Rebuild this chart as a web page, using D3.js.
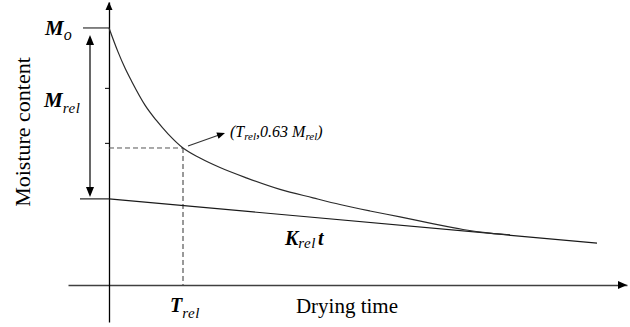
<!DOCTYPE html>
<html>
<head>
<meta charset="utf-8">
<script src="https://cdn.jsdelivr.net/npm/d3@7"></script>
<style>
  html, body { margin: 0; padding: 0; background: #fff; }
  svg { display: block; }
</style>
</head>
<body>
<svg id="chart" width="630" height="327"></svg>
<script>
// Drying curve: moisture content (M_o = 100) against drying time
const timeExtent = [-8.2, 103.6];
const moistureExtent = [-14.4, 110.1];

const curveTime     = [0, 1.8, 3.2, 4.6, 7.2, 9.4, 11.8, 14.8, 18.2, 22.2, 27.6, 34.2, 40.8, 46.2, 52.2, 58.2, 64.2, 70.8, 76.2, 80.2];
const curveMoisture = [100, 90.7, 84.4, 79.0, 70.0, 64.2, 58.8, 53.3, 49.4, 45.7, 41.6, 37.2, 33.9, 31.3, 28.8, 26.5, 24.1, 21.6, 20.2, 19.5];

// Relaxation line K_rel t
const relaxTime     = [0, 97.6];
const relaxMoisture = [33.5, 16.3];

const initialMoisture = 100;     // M_o
const relaxStart = 33.5;         // start of the K_rel t line
const relTime = 14.8;            // T_rel
const relMoisture = 53.3;        // level reached at T_rel
const yTickValues = [76.7, 55.3];

const serif = "Liberation Serif";

const svg = d3.select("#chart");
const x = d3.scaleLinear().domain(timeExtent).range([68, 627]);
const y = d3.scaleLinear().domain(moistureExtent).range([322, 2]);

const axisColor = "#404040";

// axes without tick labels
svg.append("g")
  .attr("transform", `translate(0,${y(0)})`)
  .call(d3.axisBottom(x).tickValues([]).tickSizeOuter(0))
  .call(g => g.select(".domain").attr("stroke", axisColor).attr("stroke-width", 1.4));

svg.append("g")
  .attr("transform", `translate(${x(0)},0)`)
  .call(d3.axisLeft(y).tickValues(yTickValues).tickSize(4).tickSizeOuter(0).tickFormat(""))
  .call(g => g.select(".domain").attr("stroke", "#000").attr("stroke-width", 1.3))
  .call(g => g.selectAll(".tick line").attr("stroke", "#000").attr("stroke-width", 1));

// filled arrow heads
function arrowHead(tipX, tipY, angle, len, half) {
  const p = d3.path();
  p.moveTo(0, 0);
  p.lineTo(-len, -half);
  p.lineTo(-len, half);
  p.closePath();
  svg.append("path")
    .attr("d", p.toString())
    .attr("transform", `translate(${tipX},${tipY}) rotate(${angle})`)
    .attr("fill", "#000");
}
arrowHead(x(timeExtent[1]), y(0), 0, 9, 4);
arrowHead(x(0), y(moistureExtent[1]), -90, 8, 3.5);

// reference ticks for M_o and the start of the relaxation line
svg.append("line")
  .attr("x1", x(0) - 26).attr("x2", x(0))
  .attr("y1", y(initialMoisture)).attr("y2", y(initialMoisture))
  .attr("stroke", "#333").attr("stroke-width", 1.2);
svg.append("line")
  .attr("x1", x(0) - 29).attr("x2", x(0))
  .attr("y1", y(relaxStart)).attr("y2", y(relaxStart))
  .attr("stroke", "#222").attr("stroke-width", 1.2);

// dashed guides to (T_rel, 0.63 M_rel)
svg.append("line")
  .attr("x1", x(0)).attr("x2", x(relTime))
  .attr("y1", y(relMoisture)).attr("y2", y(relMoisture))
  .attr("stroke", "#555").attr("stroke-width", 1).attr("stroke-dasharray", "5,3");
svg.append("line")
  .attr("x1", x(relTime)).attr("x2", x(relTime))
  .attr("y1", y(relMoisture)).attr("y2", y(0))
  .attr("stroke", "#333").attr("stroke-width", 1).attr("stroke-dasharray", "5,3");

// relaxation line
const relaxLine = d3.line().x((d, i) => x(relaxTime[i])).y(d => y(d));
svg.append("path")
  .attr("d", relaxLine(relaxMoisture))
  .attr("fill", "none").attr("stroke", "#1a1a1a").attr("stroke-width", 1.2);

// drying curve
const dryLine = d3.line()
  .x((d, i) => x(curveTime[i]))
  .y(d => y(d))
  .curve(d3.curveMonotoneX);
svg.append("path")
  .attr("d", dryLine(curveMoisture))
  .attr("fill", "none").attr("stroke", "#2a2a2a").attr("stroke-width", 1.2);

// double arrow spanning M_rel
const arrX = x(0) - 19;
svg.append("line")
  .attr("x1", arrX).attr("x2", arrX)
  .attr("y1", y(initialMoisture) + 12).attr("y2", y(relaxStart) - 10)
  .attr("stroke", "#000").attr("stroke-width", 1.2);
arrowHead(arrX, y(initialMoisture) + 7, -90, 10, 4);
arrowHead(arrX, y(relaxStart) - 2, 90, 10, 4);

// annotation arrow
const ax0 = x(relTime) + 5, ay0 = y(relMoisture) - 2;
const ax1 = x(relTime) + 42, ay1 = y(relMoisture) - 15;
svg.append("line")
  .attr("x1", ax0).attr("y1", ay0).attr("x2", ax1 - 6).attr("y2", ay1 + 2)
  .attr("stroke", "#333").attr("stroke-width", 1.2);
arrowHead(ax1, ay1, Math.atan2(ay1 - ay0, ax1 - ax0) * 180 / Math.PI, 8, 3.2);

// labels
function symbol(px, py, main, sub, size, subSize, subDy, after) {
  const t = svg.append("text").attr("x", px).attr("y", py)
    .style("font-family", serif)
    .attr("font-size", size).attr("font-weight", "bold").attr("font-style", "italic");
  t.append("tspan").text(main);
  t.append("tspan").attr("dy", subDy).attr("font-size", subSize)
    .attr("font-weight", "normal").attr("letter-spacing", 0.5).text(sub);
  if (after) {
    t.append("tspan").attr("dy", -subDy).attr("dx", 2).text(after);
  }
  return t;
}
symbol(45, y(initialMoisture) + 7, "M", "o", 21, 16, 5);
symbol(44, 107, "M", "rel", 21, 15, 6);
symbol(x(relTime) - 13, 312, "T", "rel", 20, 15, 6);
symbol(285, 245, "K", "rel", 20, 15, 3, "t");

// annotation text (T_rel, 0.63 M_rel)
const ann = svg.append("text").attr("x", 230).attr("y", 137)
  .style("font-family", serif)
  .attr("font-size", 16).attr("font-style", "italic");
ann.append("tspan").text("(T");
ann.append("tspan").attr("dy", 3).attr("font-size", 11).text("rel");
ann.append("tspan").attr("dy", -3).text(",0.63 M");
ann.append("tspan").attr("dy", 3).attr("font-size", 11).text("rel");
ann.append("tspan").attr("dy", -3).text(")");

// axis titles
svg.append("text")
  .attr("x", 347).attr("y", 313)
  .style("font-family", serif)
  .attr("text-anchor", "middle").attr("font-size", 21)
  .text("Drying time");
svg.append("text")
  .attr("transform", "translate(30,132) rotate(-90)")
  .style("font-family", serif)
  .attr("text-anchor", "middle").attr("font-size", 22)
  .text("Moisture content");
</script>
</body>
</html>
